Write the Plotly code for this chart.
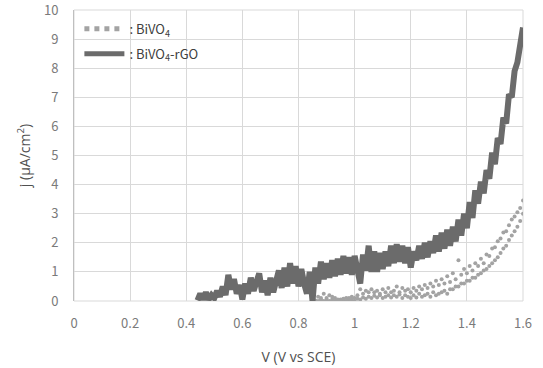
import numpy as np
import plotly.graph_objects as go

# BiVO4-rGO photocurrent (uA/cm2), sweep 0.44 -> 1.60 V step 0.01
rgo_v_start, rgo_v_step = 0.44, 0.01
rgo_j = [
    0.02, 0.25, 0.05, 0.30, 0.05, 0.20, 0.10, 0.35, 0.15, 0.50,
    0.20, 0.90, 0.40, 0.75, 0.25, 0.55, 0.05, 0.60, 0.25, 0.80,
    0.35, 0.75, 0.95, 0.30, 0.70, 0.20, 0.80, 0.30, 0.75, 1.05,
    0.45, 1.15, 0.50, 1.30, 0.60, 1.20, 0.50, 1.10, 0.60, 0.25,
    1.00, 0.00, 1.15, 0.60, 1.35, 0.75, 1.30, 0.80, 1.40, 0.85,
    1.45, 0.90, 1.55, 0.95, 1.50, 0.90, 1.55, 1.00, 0.60, 1.60,
    1.05, 1.90, 1.00, 1.70, 1.00, 1.65, 1.10, 1.70, 1.20, 1.90,
    1.30, 1.95, 1.35, 1.90, 1.30, 1.85, 1.15, 1.70, 1.40, 1.90,
    1.45, 2.00, 1.50, 2.05, 1.65, 2.25, 1.70, 2.35, 1.80, 2.45,
    1.90, 2.55, 2.05, 2.80, 2.25, 3.00, 2.50, 3.40, 2.85, 3.80,
    3.35, 4.10, 3.70, 4.50, 4.20, 5.10, 4.70, 5.60, 5.40, 6.30,
    6.10, 7.10, 7.00, 7.90, 8.20, 8.80, 9.40,
]

# BiVO4 photocurrent, two scattered readings per voltage, 0.86 -> 1.60 V step 0.01
bv_v_start, bv_v_step = 0.86, 0.01
bivo4_j_a = [
    0.02, 0.15, 0.05, 0.25, 0.10, 0.20, 0.05, 0.10, 0.02, 0.05,
    0.02, 0.10, 0.05, 0.15, 0.10, 0.20, 0.40, 0.25, 0.35, 0.30,
    0.40, 0.30, 0.35, 0.25, 0.40, 0.30, 0.45, 0.30, 0.35, 0.50,
    0.30, 0.45, 0.35, 0.40, 0.30, 0.45, 0.35, 0.50, 0.40, 0.55,
    0.45, 0.60, 0.50, 0.70, 0.55, 0.75, 0.60, 0.85, 0.65, 0.95,
    0.75, 1.40, 0.90, 1.10, 0.95, 1.20, 1.05, 1.30, 1.20, 1.45,
    1.30, 1.60, 1.55, 1.80, 1.85, 2.05, 2.15, 2.35, 2.40, 2.60,
    2.80, 2.90, 3.05, 3.20, 3.45,
]
bivo4_j_b = [
    0.00, 0.00, 0.10, 0.00, 0.05, 0.00, 0.15, 0.00, 0.05, 0.00,
    0.08, 0.00, 0.10, 0.05, 0.00, 0.08, 0.05, 0.12, 0.08, 0.15,
    0.10, 0.18, 0.12, 0.20, 0.10, 0.15, 0.20, 0.12, 0.20, 0.15,
    0.22, 0.10, 0.20, 0.15, 0.10, 0.20, 0.12, 0.25, 0.15, 0.20,
    0.25, 0.15, 0.30, 0.20, 0.25, 0.30, 0.35, 0.25, 0.40, 0.40,
    0.50, 0.50, 0.60, 0.60, 0.70, 0.70, 0.80, 0.80, 0.90, 0.95,
    1.05, 1.10, 1.20, 1.30, 1.40, 1.50, 1.65, 1.80, 1.90, 2.10,
    2.25, 2.40, 2.55, 2.75, 3.00,
]

x_tickvals = [0, 0.2, 0.4, 0.6, 0.8, 1.0, 1.2, 1.4, 1.6]
x_ticktext = ["0", "0.2", "0.4", "0.6", "0.8", "1", "1.2", "1.4", "1.6"]
y_tickvals = list(range(0, 11))

rgo_v = np.round(rgo_v_start + rgo_v_step * np.arange(len(rgo_j)), 3)
bv_v = np.round(bv_v_start + bv_v_step * np.arange(len(bivo4_j_a)), 3)

FONT = "Noto Sans CJK KR, Noto Sans, sans-serif"
TFONT = "Open Sans, Noto Sans, sans-serif"
TICK = "#7a7a7a"
TXT = "#505050"
GRID = "#d9d9d9"
C_RGO = "#6b6b6b"
C_BV = "#a3a3a3"

fig = go.Figure()

fig.add_trace(go.Scatter(
    x=np.concatenate([bv_v, bv_v]), y=bivo4_j_a + bivo4_j_b,
    mode="markers", marker=dict(color=C_BV, size=4),
    showlegend=False, hoverinfo="skip"))
fig.add_trace(go.Scatter(
    x=rgo_v, y=rgo_j, mode="lines",
    line=dict(color=C_RGO, width=6),
    showlegend=False))

# legend entries
fig.add_trace(go.Scatter(
    x=[None], y=[None], mode="lines",
    line=dict(color=C_BV, width=5, dash="dot"),
    name=": BiVO<sub>4</sub>", legendgroup="a"))
fig.add_trace(go.Scatter(
    x=[None], y=[None], mode="lines",
    line=dict(color=C_RGO, width=5),
    name=": BiVO<sub>4</sub>-rGO", legendgroup="b"))

# plot-area frame (grid-coloured border on top/right)
fig.add_shape(type="rect", xref="paper", yref="paper", x0=0, y0=0, x1=1, y1=1,
              line=dict(color=GRID, width=1), layer="below")

fig.update_layout(
    width=543, height=368,
    margin=dict(l=74, r=20, t=10, b=67),
    paper_bgcolor="white", plot_bgcolor="white",
    font=dict(family=FONT, size=12, color=TXT),
    legend=dict(x=0.012, y=0.987, xanchor="left", yanchor="top",
                bgcolor="rgba(0,0,0,0)", font=dict(size=13, color="#404040"),
                itemwidth=40, tracegroupgap=5),
    xaxis=dict(range=[0, 1.6], tickvals=x_tickvals, ticktext=x_ticktext,
               showgrid=True, gridcolor=GRID, gridwidth=1, automargin=False,
               zeroline=False, showline=False, ticks="",
               ticklabelstandoff=13, ticklabeloverflow="allow",
               tickfont=dict(size=13, color=TICK),
               title=dict(text="V (V vs SCE)", font=dict(family=TFONT, size=14, color=TXT),
                          standoff=21)),
    yaxis=dict(range=[0, 10], tickvals=y_tickvals,
               showgrid=True, gridcolor=GRID, gridwidth=1, automargin=False,
               zeroline=False, showline=True, linecolor="#bfbfbf", linewidth=1,
               ticks="", ticklabelstandoff=12, ticklabeloverflow="allow",
               tickfont=dict(size=13, color=TICK),
               title=dict(text="j (μA/cm<sup>2</sup>)", font=dict(family=TFONT, size=14, color=TXT),
                          standoff=10)),
)

fig.write_html("out.html")
